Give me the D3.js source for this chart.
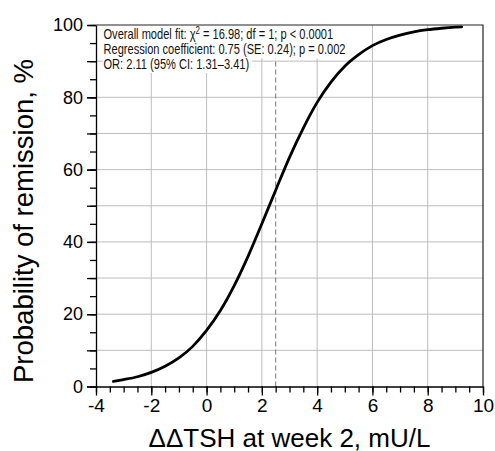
<!DOCTYPE html>
<html>
<head>
<meta charset="utf-8">
<script src="https://cdn.jsdelivr.net/npm/d3@7"></script>
<style>
  body { margin: 0; background: #fff; }
  svg { display: block; font-family: "Liberation Sans", Arial, Helvetica, sans-serif; }
</style>
</head>
<body>
<div id="chart"></div>
<script>
// values
const deltaTsh = [-3.37, -3, -2.5, -2, -1.5, -1, -0.5, 0, 0.5, 1, 1.5, 2, 2.5, 3, 3.5,
  4, 4.5, 5, 5.5, 6, 6.5, 7, 7.5, 8, 8.5, 9, 9.23];
const remissionPct = [1.4, 1.9, 2.7, 3.9, 5.6, 7.9, 11.1, 15.5, 21.0, 27.9, 36.0, 45.0, 54.3,
  63.4, 71.5, 78.6, 84.2, 88.6, 91.8, 94.3, 96.0, 97.2, 98.1, 98.7, 99.1, 99.4, 99.5];
const cutoff = 2.5;

const xDomain = [-4, 10];
const yDomain = [0, 100];
const xTickLabels = [-4, -2, 0, 2, 4, 6, 8, 10];
const yTickLabels = [0, 20, 40, 60, 80, 100];
const xGrid = [-2, 0, 2, 4, 6, 8];
const yGrid = [10, 20, 30, 40, 50, 60, 70, 80, 90];

const statLines = [
  ["Overall model fit: \u03c7", "2", " = 16.98; df = 1; p < 0.0001"],
  ["Regression coefficient: 0.75 (SE: 0.24); p = 0.002"],
  ["OR: 2.11 (95% CI: 1.31\u20133.41)"]
];

const xTitle = "\u0394\u0394TSH at week 2, mU/L";
const yTitle = "Probability of remission, %";

/************ layout *****************/
const W = 495, H = 451;
const margin = {top: 25, right: 12, bottom: 64.5, left: 96};

const x = d3.scaleLinear().domain(xDomain).range([margin.left, W - margin.right]);
const y = d3.scaleLinear().domain(yDomain).range([H - margin.bottom, margin.top]);

const svg = d3.select("#chart").append("svg")
    .attr("width", W)
    .attr("height", H);

// grid
svg.append("g").selectAll("line").data(yGrid).enter().append("line")
    .attr("x1", x(xDomain[0])).attr("x2", x(xDomain[1]))
    .attr("y1", d => y(d)).attr("y2", d => y(d))
    .attr("stroke", "#bdbdbd").attr("stroke-width", 1);
svg.append("g").selectAll("line").data(xGrid).enter().append("line")
    .attr("x1", d => x(d)).attr("x2", d => x(d))
    .attr("y1", y(yDomain[0])).attr("y2", y(yDomain[1]))
    .attr("stroke", "#bdbdbd").attr("stroke-width", 1);

// cutoff line
svg.append("line")
    .attr("x1", x(cutoff)).attr("x2", x(cutoff))
    .attr("y1", y(0)).attr("y2", y(100))
    .attr("stroke", "#777").attr("stroke-width", 1)
    .attr("stroke-dasharray", "5,3");

// annotation with white boxes behind each line
const note = svg.append("g");
const noteText = note.selectAll("text").data(statLines).enter().append("text")
    .attr("x", 0)
    .attr("y", (d, i) => 39.5 + i * 14.6)
    .attr("font-size", 14)
    .attr("fill", "#111");
noteText.each(function(parts) {
  const t = d3.select(this);
  parts.forEach((p, j) => {
    const ts = t.append("tspan").text(p);
    if (parts.length > 1 && j === 1) ts.attr("baseline-shift", "super").attr("font-size", 10);
  });
});
const natural = noteText.nodes()[0].getComputedTextLength();
const sx = 230 / natural;
noteText.attr("transform", "translate(103.5,0) scale(" + sx + ",1)");
noteText.each(function() {
  const bb = this.getBBox();
  note.insert("rect", "text")
      .attr("x", 103.5 + (bb.x - 1) * sx)
      .attr("y", bb.y - 1)
      .attr("width", (bb.width + 2) * sx + 2)
      .attr("height", bb.height + 2)
      .attr("fill", "#fff");
});

// curve
const pts = deltaTsh.map((d, i) => [d, remissionPct[i]]);
svg.append("path")
    .datum(pts)
    .attr("fill", "none")
    .attr("stroke", "#000")
    .attr("stroke-width", 2.8)
    .attr("stroke-linecap", "round")
    .attr("d", d3.line().x(d => x(d[0])).y(d => y(d[1])).curve(d3.curveMonotoneX));

// frame (top and right)
svg.append("path")
    .attr("d", "M" + x(xDomain[0]) + "," + y(100) + "H" + x(xDomain[1]) + "V" + y(0))
    .attr("fill", "none").attr("stroke", "#222").attr("stroke-width", 1.2);

// x axis: minor every 0.5, labels on even values
const xAxisG = svg.append("g")
    .attr("transform", "translate(0," + y(0) + ")");
xAxisG.append("g")
    .call(d3.axisBottom(x).tickValues(d3.range(-4, 10.01, 0.5)).tickSize(6).tickFormat(""))
    .call(g => g.select(".domain").remove());
xAxisG.append("g")
    .call(d3.axisBottom(x).tickValues(xTickLabels).tickSize(9).tickPadding(3).tickSizeOuter(0)
      .tickFormat(d => String(d)))
    .call(g => g.selectAll("text").attr("font-size", 19).attr("fill", "#000").attr("font-family", null));
xAxisG.selectAll("line, path").attr("stroke", "#000").attr("stroke-width", 1.3);

// y axis: minor every 5, major every 10, labels on 20s
const yAxisG = svg.append("g")
    .attr("transform", "translate(" + x(xDomain[0]) + ",0)");
yAxisG.append("g")
    .call(d3.axisLeft(y).tickValues(d3.range(0, 100.01, 5)).tickSize(6).tickFormat(""))
    .call(g => g.select(".domain").remove());
yAxisG.append("g")
    .call(d3.axisLeft(y).tickValues(d3.range(0, 100.01, 10)).tickSize(9).tickFormat(""))
    .call(g => g.select(".domain").remove());
yAxisG.append("g")
    .call(d3.axisLeft(y).tickValues(yTickLabels).tickSize(9).tickPadding(4).tickSizeOuter(0)
      .tickFormat(d => String(d)))
    .call(g => g.selectAll("text").attr("font-size", 18).attr("fill", "#000").attr("font-family", null));
yAxisG.selectAll("line, path").attr("stroke", "#000").attr("stroke-width", 1.3);

// titles
svg.append("text")
    .attr("x", (x(xDomain[0]) + x(xDomain[1])) / 2)
    .attr("y", 446.5)
    .attr("text-anchor", "middle")
    .attr("font-size", 26)
    .text(xTitle);

svg.append("text")
    .attr("transform", "translate(33,221) rotate(-90)")
    .attr("text-anchor", "middle")
    .attr("font-size", 27.5)
    .text(yTitle);
</script>
</body>
</html>
